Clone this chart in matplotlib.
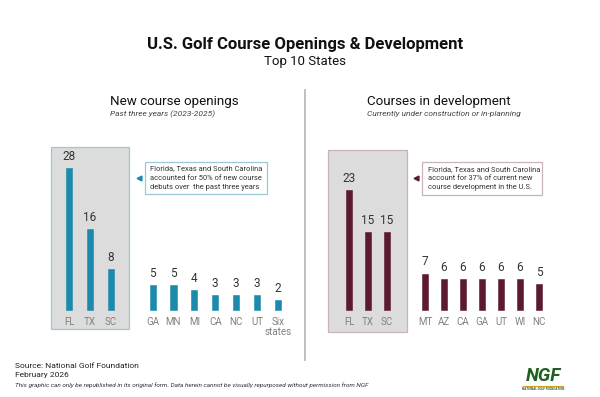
import matplotlib.pyplot as plt
from matplotlib.patches import Rectangle

plt.rcParams['font.family'] = ['Roboto', 'DejaVu Sans']

W, H = 600, 397

# data
open_states = ["FL", "TX", "SC", "GA", "MN", "MI", "CA", "NC", "UT", "Six\nstates"]
open_counts = [28, 16, 8, 5, 5, 4, 3, 3, 3, 2]
dev_states = ["FL", "TX", "SC", "MT", "AZ", "CA", "GA", "UT", "WI", "NC"]
dev_counts = [23, 15, 15, 7, 6, 6, 6, 6, 6, 5]
open_note = "Florida, Texas and South Carolina\naccounted for 50% of new course\ndebuts over  the past three years"
dev_note = "Florida, Texas and South Carolina\naccount for 37% of current new\ncourse development in the U.S."

TEAL = "#1b8aab"
MAROON = "#5b1a2d"


def fx(px):
    return px / W


def fy(py):
    return 1 - py / H


def panel(fig, x0, dx, dy, states, counts, color, box_edge, box_x, box_y, bw):
    # x0: pixel of first bar, dx/dy pixels per unit, baseline at y=310px
    base = 310
    ax = fig.add_axes([fx(x0 - 1.5 * dx), fy(base + 5 * dy), 13 * dx / W, 40 * dy / H])
    ax.set_xlim(-1.5, 11.5)
    ax.set_ylim(-5, 35)
    ax.axis("off")
    pos = [0, 1, 2] + list(range(4, 11))
    # grey highlight box around top three
    bx0 = (box_x[0] - x0) / dx
    bx1 = (box_x[1] - x0) / dx
    by0 = (base - box_y[1]) / dy
    by1 = (base - box_y[0]) / dy
    ax.add_patch(Rectangle((bx0, by0), bx1 - bx0, by1 - by0, facecolor="#dcdcdc",
                           edgecolor=box_edge, lw=0.9, zorder=0, clip_on=False))
    ax.bar(pos, counts, width=bw, color=color, edgecolor=color, lw=0.4, zorder=2)
    for p, c, s in zip(pos, counts, states):
        ax.text(p, c + 1.0, str(c), ha="center", va="bottom", fontsize=8.5, color="#333333")
        ax.text(p, -1.3, s, ha="center", va="top", fontsize=7, color="#808080",
                linespacing=1.1)
    return ax


fig = plt.figure(figsize=(6, 3.97), dpi=100)

# titles
fig.text(fx(305), fy(45), "U.S. Golf Course Openings & Development", ha="center", va="center",
         fontsize=12, fontweight="bold", color="#111111")
fig.text(fx(305), fy(62), "Top 10 States", ha="center", va="center", fontsize=9.5, color="#111111")

fig.text(fx(110), fy(102), "New course openings", ha="left", va="center", fontsize=9.6, color="#111111")
fig.text(fx(110), fy(114), "Past three years (2023-2025)", ha="left", va="center", fontsize=6,
         style="italic", color="#444444")
fig.text(fx(367), fy(102), "Courses in development", ha="left", va="center", fontsize=9.6, color="#111111")
fig.text(fx(367), fy(114), "Currently under construction or in-planning", ha="left", va="center",
         fontsize=6, style="italic", color="#444444")

# divider
fig.add_artist(plt.Line2D([fx(305), fx(305)], [fy(90), fy(360)], color="#bbbbbb", lw=1.3))

panel(fig, 69, 20.9, 5.07, open_states, open_counts, TEAL, "#9cc9da", (51, 129), (147, 329), 0.29)
panel(fig, 349, 19.0, 5.2, dev_states, dev_counts, MAROON, "#c9b2ba", (328, 407), (150, 332), 0.32)

# annotation boxes
for (x0, x1, y0, y1, ec, mk, note) in [(145, 267, 162, 194, "#9cc9da", TEAL, open_note),
                                        (422, 542, 162, 195, "#c9b2ba", MAROON, dev_note)]:
    fig.add_artist(Rectangle((fx(x0), fy(y1)), (x1 - x0) / W, (y1 - y0) / H,
                             facecolor="white", edgecolor=ec, lw=0.9, transform=fig.transFigure))
    fig.text(fx(x0 + 5.5), fy((y0 + y1) / 2), note, ha="left", va="center", fontsize=5.4,
             color="#333333", linespacing=1.45)
    fig.add_artist(plt.Line2D([fx(x0 - 6)], [fy(178)], marker="<", markersize=3.5, color=mk,
                              transform=fig.transFigure))

# footer
fig.text(fx(15), fy(366), "Source: National Golf Foundation", ha="left", va="center", fontsize=6,
         color="#222222")
fig.text(fx(15), fy(375), "February 2026", ha="left", va="center", fontsize=6, color="#222222")
fig.text(fx(15), fy(385), "This graphic can only be republished in its original form. Data herein cannot "
         "be visually repurposed without permission from NGF", ha="left", va="center", fontsize=4.6,
         style="italic", color="#333333")

# NGF logo
fig.text(fx(543), fy(376), "NGF", ha="center", va="center", fontsize=13.5, fontweight="bold",
         style="italic", color="#1f5f1f")
fig.add_artist(plt.Line2D([fx(523), fx(563)], [fy(385.5), fy(385.5)], color="#c9a227", lw=0.8))
fig.text(fx(543), fy(388.5), "NATIONAL GOLF FOUNDATION", ha="center", va="center", fontsize=2.2,
         fontweight="bold", color="#1f5f1f")

fig.savefig("out.png", dpi=100, facecolor="white")
